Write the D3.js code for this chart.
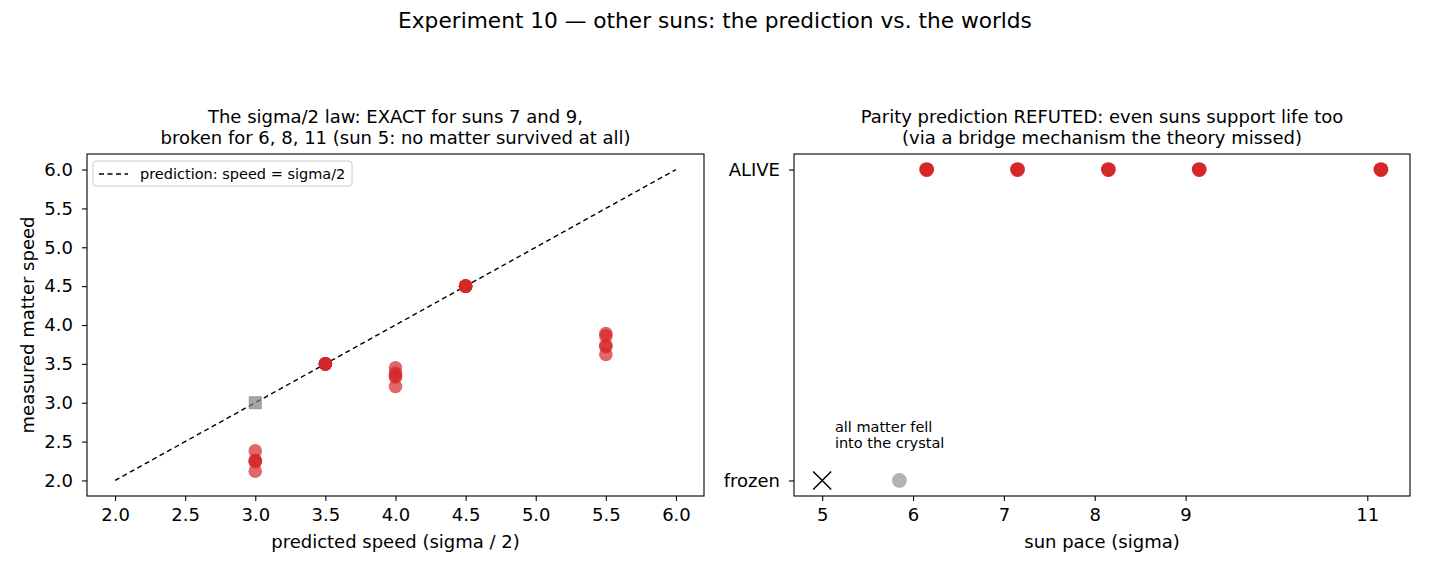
<!DOCTYPE html>
<html><head><meta charset="utf-8">
<script src="https://cdn.jsdelivr.net/npm/d3@7"></script>
<style>body{margin:0;background:#fff}svg{font-family:"DejaVu Sans",sans-serif}</style>
</head><body>
<svg id="c" width="1430" height="572"></svg>
<script>
const suptitle = "Experiment 10 \u2014 other suns: the prediction vs. the worlds";
const leftTitle = ["The sigma/2 law: EXACT for suns 7 and 9,", "broken for 6, 8, 11 (sun 5: no matter survived at all)"];
const rightTitle = ["Parity prediction REFUTED: even suns support life too", "(via a bridge mechanism the theory missed)"];
// left panel
const predX = [3.0,3.0,3.0,3.0,3.0, 3.5,3.5,3.5,3.5,3.5, 4.0,4.0,4.0,4.0,4.0, 4.5,4.5,4.5,4.5,4.5, 5.5,5.5,5.5,5.5,5.5];
const measY = [2.38,2.26,2.25,2.24,2.12, 3.5,3.5,3.5,3.5,3.5, 3.45,3.38,3.35,3.33,3.21, 4.5,4.5,4.5,4.5,4.5, 3.89,3.86,3.74,3.72,3.62];
const deadX = [3.0], deadY = [3.0];
const lineX = [2.0, 6.0], lineY = [2.0, 6.0];
const leftXTicks = [2.0,2.5,3.0,3.5,4.0,4.5,5.0,5.5,6.0];
const leftYTicks = [2.0,2.5,3.0,3.5,4.0,4.5,5.0,5.5,6.0];
const legendLabel = "prediction: speed = sigma/2";
// right panel
const aliveX = [6.15,7.15,8.15,9.15,11.15], aliveY = [1,1,1,1,1];
const grayX = [5.85], grayY = [0];
const crossX = [5.0], crossY = [0];
const rightXTicks = [5,6,7,8,9,11];
const rightYTicks = [0,1], rightYLabels = ["frozen","ALIVE"];
const annot = ["all matter fell","into the crystal"], annotX = 5.14, annotY = 0.155;

const svg = d3.select("#c");
const red = "#d62728";
const FS = 18;

svg.append("text").attr("x",715).attr("y",28).attr("text-anchor","middle").attr("font-size",21.7).text(suptitle);

// LEFT
const L = {x0:87,x1:704,y0:154,y1:496};
const xl = d3.scaleLinear().domain([1.8,6.2]).range([L.x0,L.x1]);
const yl = d3.scaleLinear().domain([1.8,6.2]).range([L.y1,L.y0]);
const gl = svg.append("g");
gl.append("g").attr("transform",`translate(0,${L.y1})`).call(d3.axisBottom(xl).tickValues(leftXTicks).tickFormat(d3.format(".1f")).tickSize(5).tickPadding(7)).call(styleAxis);
gl.append("g").attr("transform",`translate(${L.x0},0)`).call(d3.axisLeft(yl).tickValues(leftYTicks).tickFormat(d3.format(".1f")).tickSize(5).tickPadding(9)).call(styleAxis);
gl.append("path").attr("d",d3.line()(lineX.map((v,i)=>[xl(v),yl(lineY[i])]))).attr("stroke","#000").attr("stroke-width",1.4).attr("stroke-dasharray","5,3.5").attr("fill","none");
gl.selectAll("rect.dead").data(deadX).join("rect").attr("x",(d)=>xl(d)-6).attr("y",(d,i)=>yl(deadY[i])-6).attr("width",12).attr("height",12).attr("fill","#808080").attr("fill-opacity",0.7).attr("stroke","#808080").attr("stroke-opacity",0.7);
gl.selectAll("circle.m").data(predX).join("circle").attr("cx",d=>xl(d)).attr("cy",(d,i)=>yl(measY[i])).attr("r",6.8).attr("fill",red).attr("fill-opacity",0.7);
gl.append("rect").attr("x",L.x0).attr("y",L.y0).attr("width",L.x1-L.x0).attr("height",L.y1-L.y0).attr("fill","none").attr("stroke","#000").attr("stroke-width",1.1);
// legend
const lg = gl.append("g");
lg.append("rect").attr("x",93).attr("y",161).attr("width",259).attr("height",25).attr("rx",3).attr("fill","#fff").attr("fill-opacity",0.8).attr("stroke","#ccc");
lg.append("line").attr("x1",99).attr("x2",128).attr("y1",174).attr("y2",174).attr("stroke","#000").attr("stroke-width",1.4).attr("stroke-dasharray","5,3.5");
lg.append("text").attr("x",140).attr("y",179).attr("font-size",14.5).text(legendLabel);
// titles/labels
leftTitle.forEach((t,i)=>gl.append("text").attr("x",(L.x0+L.x1)/2).attr("y",123+i*21).attr("text-anchor","middle").attr("font-size",FS).text(t));
gl.append("text").attr("x",(L.x0+L.x1)/2).attr("y",548).attr("text-anchor","middle").attr("font-size",FS).text("predicted speed (sigma / 2)");
gl.append("text").attr("transform",`translate(34,${(L.y0+L.y1)/2}) rotate(-90)`).attr("text-anchor","middle").attr("font-size",FS).text("measured matter speed");

// RIGHT
const R = {x0:794,x1:1410,y0:154,y1:496};
const xr = d3.scaleLinear().domain([4.69,11.47]).range([R.x0,R.x1]);
const yr = d3.scaleLinear().domain([-0.05,1.05]).range([R.y1,R.y0]);
const gr = svg.append("g");
gr.append("g").attr("transform",`translate(0,${R.y1})`).call(d3.axisBottom(xr).tickValues(rightXTicks).tickFormat(d3.format("d")).tickSize(5).tickPadding(7)).call(styleAxis);
gr.append("g").attr("transform",`translate(${R.x0},0)`).call(d3.axisLeft(yr).tickValues(rightYTicks).tickFormat((d,i)=>rightYLabels[i]).tickSize(5).tickPadding(9)).call(styleAxis);
gr.selectAll("circle.a").data(aliveX).join("circle").attr("cx",d=>xr(d)).attr("cy",(d,i)=>yr(aliveY[i])).attr("r",7.4).attr("fill",red);
gr.selectAll("circle.g").data(grayX).join("circle").attr("cx",d=>xr(d)).attr("cy",(d,i)=>yr(grayY[i])).attr("r",7.4).attr("fill","#808080").attr("fill-opacity",0.6);
crossX.forEach((d,i)=>{const cx=xr(d),cy=yr(crossY[i]),s=9;
  gr.append("path").attr("d",`M${cx-s},${cy-s}L${cx+s},${cy+s}M${cx-s},${cy+s}L${cx+s},${cy-s}`).attr("stroke","#000").attr("stroke-width",1.5);});
annot.forEach((t,i)=>gr.append("text").attr("x",xr(annotX)).attr("y",yr(annotY)+i*16).attr("font-size",14.5).text(t));
gr.append("rect").attr("x",R.x0).attr("y",R.y0).attr("width",R.x1-R.x0).attr("height",R.y1-R.y0).attr("fill","none").attr("stroke","#000").attr("stroke-width",1.1);
rightTitle.forEach((t,i)=>gr.append("text").attr("x",(R.x0+R.x1)/2).attr("y",123+i*21).attr("text-anchor","middle").attr("font-size",FS).text(t));
gr.append("text").attr("x",(R.x0+R.x1)/2).attr("y",548).attr("text-anchor","middle").attr("font-size",FS).text("sun pace (sigma)");

function styleAxis(g){
  g.select(".domain").remove();
  g.selectAll(".tick line").attr("stroke","#000").attr("stroke-width",1.1);
  g.selectAll(".tick text").attr("font-size",FS).attr("fill","#000").attr("font-family","DejaVu Sans");
}
</script>
</body></html>
